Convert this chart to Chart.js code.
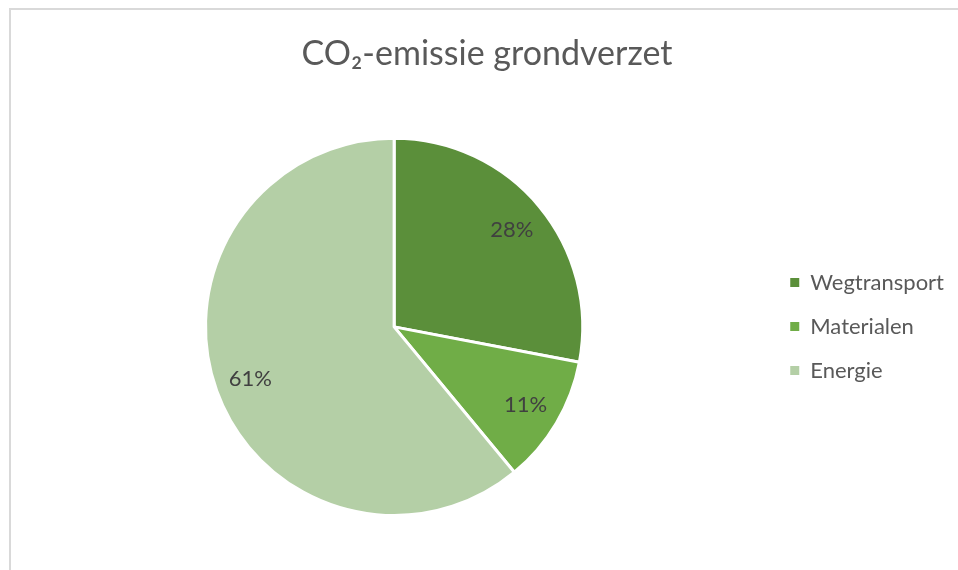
<!DOCTYPE html>
<html>
<head>
<meta charset="utf-8">
<script src="https://cdn.jsdelivr.net/npm/chart.js@4/dist/chart.umd.min.js"></script>
<style>
  html, body { margin: 0; padding: 0; background: #fff; overflow: hidden; }
  #wrap { position: relative; width: 958px; height: 570px; }
  #frame { position: absolute; left: 9px; top: 8px; width: 1000px; height: 600px;
           border-left: 2px solid #d9d9d9; border-top: 2px solid #d9d9d9; box-sizing: border-box; }
  canvas { position: absolute; left: 0; top: 0; }
</style>
</head>
<body>
<div id="wrap">
  <div id="frame"></div>
  <canvas id="myChart" width="958" height="570"></canvas>
</div>
<script>
const labels = ["Wegtransport", "Materialen", "Energie"];
const values = [28, 11, 61];
const colors = ["#5b8f3a", "#70ad47", "#b4cfa6"];

// percentage labels inside the slices
const pctLabels = {
  id: "pctLabels",
  afterDatasetsDraw(chart) {
    const ctx = chart.ctx;
    const meta = chart.getDatasetMeta(0);
    const total = values.reduce((a, b) => a + b, 0);
    ctx.save();
    ctx.font = "22px Lato";
    ctx.fillStyle = "#404040";
    ctx.textAlign = "center";
    ctx.textBaseline = "middle";
    meta.data.forEach((arc, i) => {
      const p = arc.getProps(["x", "y", "startAngle", "endAngle", "outerRadius"], true);
      const mid = (p.startAngle + p.endAngle) / 2;
      const r = p.outerRadius * 0.81;
      const pct = Math.round(values[i] / total * 100) + "%";
      ctx.fillText(pct, p.x + Math.cos(mid) * r, p.y + Math.sin(mid) * r);
    });
    ctx.restore();
  }
};

let chart;

function initChart() {
  const ctx = document.getElementById("myChart");

  chart = new Chart(ctx, {
    type: "pie",
    data: {
      labels: labels,
      datasets: [{
        data: values,
        backgroundColor: colors,
        borderColor: "#ffffff",
        borderWidth: 3
      }]
    },
    options: {
      responsive: false,
      animation: false,
      layout: { padding: { left: 20, right: 4, top: 0, bottom: 53 } },
      plugins: {
        title: {
          display: true,
          text: "CO₂-emissie grondverzet",
          color: "#595959",
          font: { family: "Lato", size: 34, weight: "normal" },
          padding: { top: 34, bottom: 62 }
        },
        legend: {
          position: "right",
          // empty title only used to push the items down to the pie's middle
          title: { display: true, text: "", font: { size: 10 }, padding: { top: 124, bottom: 0 } },
          labels: {
            color: "#595959",
            font: { family: "Lato", size: 22 },
            boxWidth: 9,
            boxHeight: 9,
            padding: 22,
            generateLabels(c) {
              const items = Chart.overrides.pie.plugins.legend.labels.generateLabels(c);
              items.forEach(it => { it.lineWidth = 0; });
              return items;
            }
          }
        },
        tooltip: { enabled: false }
      }
    },
    plugins: [pctLabels]
  });
}

window.onload = () => {
  initChart();
};
</script>
</body>
</html>
